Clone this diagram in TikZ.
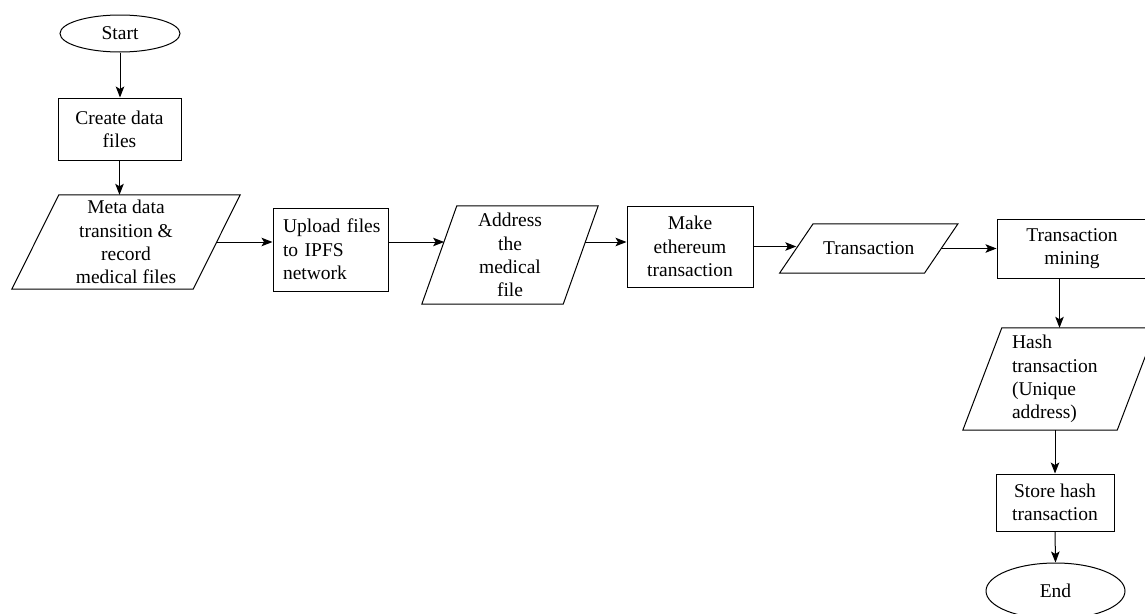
\documentclass[tikz,border=0pt]{standalone}
\usepackage{fontspec}
\setmainfont{Liberation Serif}
\usetikzlibrary{shapes.geometric,arrows.meta}
\newcommand\mainfnt{\fontsize{19.5}{23.3}\selectfont}
\newcommand\paradraw[2]{\draw[shapeline] ([xshift=#2]#1.north west) -- ([xshift=#2]#1.north east) -- ([xshift=-#2]#1.south east) -- ([xshift=-#2]#1.south west) -- cycle;}
\tikzset{
  base/.style={font=\mainfnt, inner sep=0pt, align=center},
  shapeline/.style={line width=1pt, line join=miter},
  box/.style={base, draw, shapeline, rectangle},
  leftbox/.style={base, align=left},
  term/.style={base, draw, shapeline, ellipse},
  iobox/.style={base},
  arr/.style={-{Stealth[length=11pt,width=8.5pt,inset=2.5pt]}, line width=1pt}
}
\begin{document}
\begin{tikzpicture}[x=1pt,y=-1pt]
\useasboundingbox (0,0) rectangle (1145,613);
\clip (0,0) rectangle (1145,613);
\fill[white] (0,0) rectangle (1145,613);

% nodes
\node[term, minimum width=120pt, minimum height=37pt] (start) at (120,33.5) {Start};
\node[box, minimum width=123pt, minimum height=62pt] (create) at (119.5,129) {Create data\\files};
\node[iobox, minimum width=181pt, minimum height=94pt] (meta) at (126,242) {Meta data\\transition \&\\record\\medical files};
\paradraw{meta}{23.5pt}
\node[box, leftbox, text width=95pt, inner xsep=10pt, minimum height=83pt] (upload) at (330.5,249.5) {Upload~files\\to~IPFS\\network};
\node[iobox, minimum width=141pt, minimum height=98pt] (addr) at (510,255) {Address\\the\\medical\\file};
\paradraw{addr}{17.5pt}
\node[box, minimum width=126pt, minimum height=81pt] (make) at (690,246.5) {Make\\ethereum\\transaction};
\node[iobox, minimum width=144.5pt, minimum height=49pt] (trans) at (868.75,248.5) {Transaction};
\paradraw{trans}{16.75pt}
\node[box, minimum width=150pt, minimum height=59pt] (mining) at (1072,248.5) {Transaction\\mining};
\node[iobox, leftbox, text width=95pt, inner xsep=29.5pt, minimum height=102pt] (hash) at (1059.5,379) {Hash\\transaction\\(Unique\\address)};
\paradraw{hash}{19.5pt}
\node[box, minimum width=118pt, minimum height=57pt] (store) at (1055,502.5) {Store hash\\transaction};
\node[term, minimum width=139pt, minimum height=56pt] (end) at (1055.5,591) {End};

% points where the flow line meets the slanted sides of "Address the medical file"
\coordinate (addrin) at (444.1,242);
\coordinate (addrout) at (585.1,242);

% connectors
\draw[arr] (start.south) -- (start.south |- create.north);
\draw[arr] (create.south) -- (create.south |- meta.north);
\draw[arr] (meta.east) -- (meta.east -| upload.west);
\draw[arr] (upload.east |- addrin) -- (addrin);
\draw[arr] (addrout) -- (addrout -| make.west);
\draw[arr] (make.east) -- (make.east -| trans.west);
\draw[arr] (trans.east) -- (trans.east -| mining.west);
\draw[arr] (mining.south -| hash.north) -- (hash.north);
\draw[arr] (hash.south -| store.north) -- (store.north);
\draw[arr] (store.south) -- (end.north);
\end{tikzpicture}
\end{document}
